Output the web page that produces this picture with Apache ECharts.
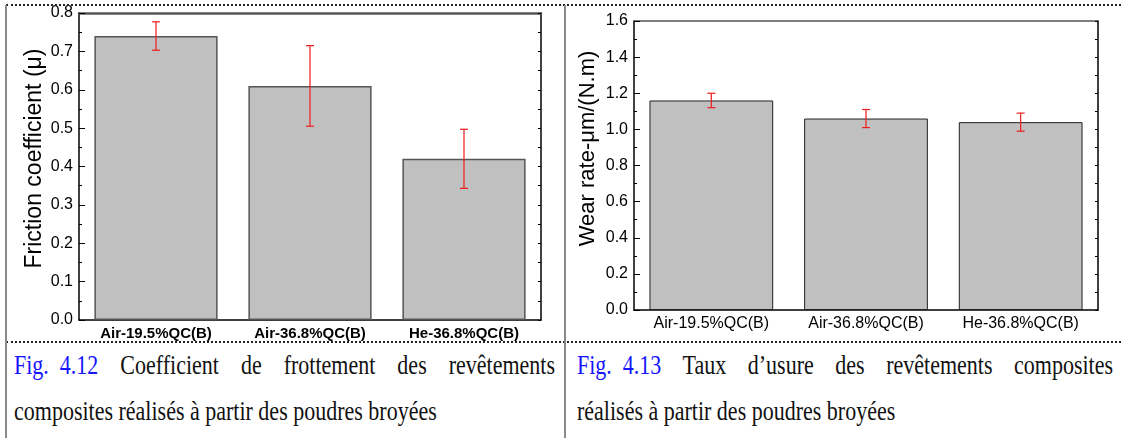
<!DOCTYPE html>
<html>
<head>
<meta charset="utf-8">
<script src="https://cdn.jsdelivr.net/npm/echarts@6/dist/echarts.min.js"></script>
<style>
  html, body { margin:0; padding:0; background:#fff; }
  body { width:1121px; height:438px; position:relative; overflow:hidden; }
  #chart { position:absolute; left:0; top:0; width:1121px; height:342px; }
  .hdot { position:absolute; height:0; border-top:2px dotted #222; }
  .vline { position:absolute; width:2px; background:#8a8a8a; }
  .cap { position:absolute; font-family:"Liberation Serif","Times New Roman",serif; font-size:22px; line-height:22px; color:#111; white-space:nowrap; transform:scaleY(1.2); transform-origin:50% 50%; }
  .cap.j { text-align:justify; text-align-last:justify; white-space:normal; }
  .blue { color:#1414ff; display:inline-block; }
</style>
</head>
<body>
<div id="chart"></div>
<div class="hdot" style="left:6px; top:4px; width:1115px;"></div>
<div class="hdot" style="left:6px; top:341px; width:1115px;"></div>
<div class="vline" style="left:5px; top:5px; height:433px;"></div>
<div class="vline" style="left:564px; top:5px; height:433px;"></div>

<div class="cap j" style="left:14px; top:355px; width:541px;"><span class="blue">Fig.&nbsp;&nbsp;4.12</span> Coefficient de frottement des revêtements</div>
<div class="cap" style="left:14px; top:401px;">composites réalisés à partir des poudres broyées</div>
<div class="cap j" style="left:577px; top:355px; width:536px;"><span class="blue">Fig.&nbsp;&nbsp;4.13</span> Taux d’usure des revêtements composites</div>
<div class="cap" style="left:577px; top:401px;">réalisés à partir des poudres broyées</div>

<script>
// ---- data ----
const categories = ['Air-19.5%QC(B)', 'Air-36.8%QC(B)', 'He-36.8%QC(B)'];
const frictionMeans = [0.74, 0.61, 0.42];
const frictionErrors = [0.037, 0.105, 0.077];
const wearMeans = [1.16, 1.06, 1.04];
const wearErrors = [0.04, 0.05, 0.05];
const frictionAxis = { min: 0, max: 0.8, interval: 0.1 };
const wearAxis = { min: 0, max: 1.6, interval: 0.2 };
const frictionName = 'Friction coefficient (μ)';
const wearName = 'Wear rate-μm/(N.m)';

const FONT = '"Liberation Sans", Arial, sans-serif';
const chart = echarts.init(document.getElementById('chart'), null, { renderer: 'canvas' });

function errorSeries(means, errs, xi, yi) {
  return {
    type: 'custom',
    xAxisIndex: xi, yAxisIndex: yi,
    z: 10,
    data: means.map((m, i) => [i, m, errs[i]]),
    encode: { x: 0, y: 1 },
    renderItem: function (params, api) {
      const idx = api.value(0), m = api.value(1), e = api.value(2);
      const top = api.coord([idx, m + e]);
      const bot = api.coord([idx, m - e]);
      const hw = 4;
      const st = { stroke: '#ee1c1c', lineWidth: 1.2 };
      return {
        type: 'group',
        children: [
          { type: 'line', shape: { x1: top[0], y1: top[1], x2: bot[0], y2: bot[1] }, style: st },
          { type: 'line', shape: { x1: top[0] - hw, y1: top[1], x2: top[0] + hw, y2: top[1] }, style: st },
          { type: 'line', shape: { x1: bot[0] - hw, y1: bot[1], x2: bot[0] + hw, y2: bot[1] }, style: st }
        ]
      };
    }
  };
}

function catAxes(gi, labelStyle, topColor, topWidth) {
  return [
    { type: 'category', gridIndex: gi, position: 'bottom', data: categories,
      axisLine: { lineStyle: { color: '#000', width: 1.5 } },
      axisTick: { inside: true, alignWithLabel: true, length: 5, lineStyle: { color: '#000' } },
      axisLabel: Object.assign({ margin: 6, interval: 0, color: '#000', fontFamily: FONT }, labelStyle) },
    { type: 'category', gridIndex: gi, position: 'bottom', data: categories,
      axisLine: { show: false }, axisLabel: { show: false },
      axisTick: { inside: true, length: 3, lineStyle: { color: '#000' } } },
    { type: 'category', gridIndex: gi, position: 'top', data: categories,
      axisLine: { lineStyle: { color: topColor, width: topWidth } }, axisLabel: { show: false },
      axisTick: { inside: true, alignWithLabel: true, length: 3, lineStyle: { color: '#000' } } },
    { type: 'category', gridIndex: gi, position: 'top', data: categories,
      axisLine: { show: false }, axisLabel: { show: false },
      axisTick: { inside: true, length: 3, lineStyle: { color: '#000' } } }
  ];
}

function valAxes(gi, ax, name, nameSize, nameGap, namePad) {
  return [
    { type: 'value', gridIndex: gi, position: 'left', min: ax.min, max: ax.max, interval: ax.interval,
      name: name, nameLocation: 'middle', nameGap: nameGap,
      nameTextStyle: { fontFamily: FONT, fontSize: nameSize, color: '#000', padding: namePad },
      splitLine: { show: false },
      axisLine: { show: true, lineStyle: { color: '#000', width: 1.5 } },
      axisTick: { show: true, inside: true, length: 6, lineStyle: { color: '#000' } },
      minorTick: { show: true, splitNumber: 2, length: 3, lineStyle: { color: '#000' } },
      axisLabel: { fontFamily: FONT, fontSize: 16, color: '#000', margin: 6,
        formatter: v => v.toFixed(1) } },
    { type: 'value', gridIndex: gi, position: 'right', min: ax.min, max: ax.max, interval: ax.interval / 2,
      splitLine: { show: false },
      axisLine: { show: true, lineStyle: { color: '#000', width: 1.5 } },
      axisTick: { show: true, inside: true, length: 3, lineStyle: { color: '#000' } },
      axisLabel: { show: false } }
  ];
}

const option = {
  animation: false,
  grid: [
    { left: 79, top: 13, width: 462, height: 307 },
    { left: 634, top: 21, width: 464, height: 289 }
  ],
  xAxis: [].concat(
    catAxes(0, { fontSize: 15, fontWeight: 'bold' }, '#555', 2.5),
    catAxes(1, { fontSize: 16 }, '#555', 1.5)
  ),
  yAxis: [].concat(
    valAxes(0, frictionAxis, frictionName, 23, 33, [0, 0, 0, 16]),
    valAxes(1, wearAxis, wearName, 22, 35, [0, 0, 0, 34])
  ),
  series: [
    { type: 'bar', xAxisIndex: 0, yAxisIndex: 0, data: frictionMeans, barWidth: '80%',
      itemStyle: { color: '#c0c0c0', borderColor: '#555', borderWidth: 1.5 } },
    errorSeries(frictionMeans, frictionErrors, 0, 0),
    { type: 'bar', xAxisIndex: 4, yAxisIndex: 2, data: wearMeans, barWidth: '80%',
      itemStyle: { color: '#c0c0c0', borderColor: '#222', borderWidth: 1 } },
    errorSeries(wearMeans, wearErrors, 4, 2)
  ]
};
chart.setOption(option);
</script>
</body>
</html>
